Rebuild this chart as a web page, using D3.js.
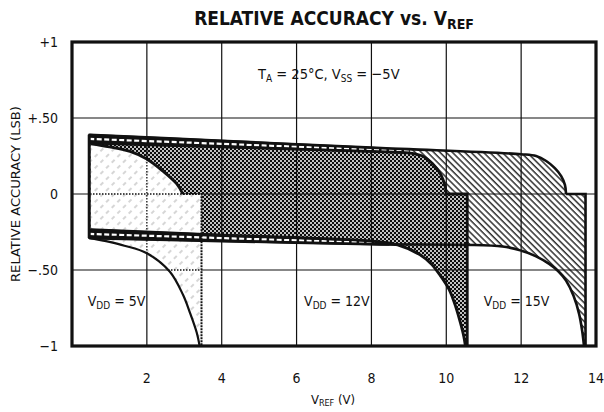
<!DOCTYPE html>
<html>
<head>
<meta charset="utf-8">
<script src="https://cdn.jsdelivr.net/npm/d3@7"></script>
<style>
  body { margin: 0; background: #fff; }
  text { font-family: "Liberation Sans Narrow", "DejaVu Sans Condensed", "Liberation Sans", sans-serif; fill: #111; }
</style>
</head>
<body>
<svg id="chart" width="604" height="412"></svg>
<script>
// axis ticks
var xTicks = [2, 4, 6, 8, 10, 12, 14];
var yTicks = [1, 0.5, 0, -0.5, -1];
var yTickLabels = ["+1", "+.50", "0", "\u2212.50", "\u22121"];
var gridX = [2, 4, 6, 8, 10, 12];
var gridY = [0.5, 0, -0.5];

// boundary curves [VREF, LSB]
var vdd15Top = [[0.46, 0.39], [4, 0.35], [8, 0.305], [9, 0.295], [12.0, 0.262], [12.4, 0.25], [12.67, 0.217], [12.9, 0.17], [13.07, 0.118], [13.17, 0.06], [13.2, 0]];
var vdd15Bottom = [[0.46, -0.29], [4, -0.31], [8, -0.33], [11.5, -0.345], [12.03, -0.375], [12.4, -0.41], [12.75, -0.46], [13.0, -0.51], [13.2, -0.57], [13.4, -0.67], [13.55, -0.79], [13.63, -0.9], [13.68, -1]];
var vdd15Step = [13.2, 13.72];

var vdd12Top = [[0.5, 0.335], [4, 0.31], [8, 0.28], [9.0, 0.27], [9.4, 0.245], [9.63, 0.2], [9.85, 0.13], [9.97, 0.05], [10.0, 0]];
var vdd12Bottom = [[0.5, -0.235], [4, -0.27], [8, -0.31], [8.7, -0.335], [9.3, -0.4], [9.6, -0.46], [9.85, -0.54], [10.08, -0.63], [10.25, -0.74], [10.38, -0.85], [10.47, -0.94], [10.51, -1]];
var vdd12Step = [10.0, 10.56];

var vdd5Top = [[0.5, 0.33], [1.0, 0.31], [1.55, 0.28], [2.0, 0.23], [2.43, 0.15], [2.8, 0.066], [2.96, 0]];
var vdd5Bottom = [[0.5, -0.29], [1.0, -0.315], [1.4, -0.34], [2.0, -0.39], [2.61, -0.51], [2.96, -0.66], [3.15, -0.78], [3.33, -0.91], [3.41, -1]];
var vdd5Step = [2.96, 3.46];

// dashed bands along top and bottom edges (x, outer, inner)
var topBand = [[0.46, 0.39, 0.335], [4, 0.35, 0.31], [8, 0.305, 0.28], [9.0, 0.292, 0.27]];
var bottomBand = [[0.46, -0.29, -0.235], [4, -0.31, -0.27], [8, -0.33, -0.31], [8.7, -0.335, -0.333]];

var labels = [
  { v: 0.42, t: "5V" },
  { v: 6.2, t: "12V" },
  { v: 11.0, t: "15V" }
];

var svg = d3.select("#chart");
var x = d3.scaleLinear().domain([0, 14]).range([72, 596]);
var y = d3.scaleLinear().domain([-1, 1]).range([346, 42]);

var defs = svg.append("defs");

// 15V: "\\" hatch
var p15 = defs.append("pattern").attr("id", "hatch15")
  .attr("patternUnits", "userSpaceOnUse").attr("width", 4.4).attr("height", 4.4)
  .attr("patternTransform", "rotate(-45)");
p15.append("rect").attr("width", 4.4).attr("height", 4.4).attr("fill", "#fff");
p15.append("line").attr("x1", 1).attr("y1", 0).attr("x2", 1).attr("y2", 4.4)
  .attr("stroke", "#222").attr("stroke-width", 1.4);

// 12V: dense cross hatch
var p12 = defs.append("pattern").attr("id", "cross12")
  .attr("patternUnits", "userSpaceOnUse").attr("width", 4).attr("height", 4);
p12.append("rect").attr("width", 4).attr("height", 4).attr("fill", "#0c0c0c");
p12.append("circle").attr("cx", 1).attr("cy", 1).attr("r", 1.0).attr("fill", "#fff");
p12.append("circle").attr("cx", 3).attr("cy", 3).attr("r", 1.0).attr("fill", "#fff");

// 5V: sparse light "/" hatch
var p5 = defs.append("pattern").attr("id", "hatch5")
  .attr("patternUnits", "userSpaceOnUse").attr("width", 8).attr("height", 8)
  .attr("patternTransform", "rotate(45)");
p5.append("rect").attr("width", 8).attr("height", 8).attr("fill", "#fff");
p5.append("line").attr("x1", 2).attr("y1", 0).attr("x2", 2).attr("y2", 4)
  .attr("stroke", "#b5b5b5").attr("stroke-width", 1.1);

var curve = d3.line()
  .curve(d3.curveCatmullRom.alpha(0.5))
  .x(function (d) { return x(d[0]); })
  .y(function (d) { return y(d[1]); });

function region(top, step, bottom) {
  var d = curve(top);
  d += "L" + x(step[1]) + "," + y(0);
  d += "L" + x(step[1]) + "," + y(-1);
  d += curve(bottom.slice().reverse()).replace(/^M/, "L");
  return d + "Z";
}

var path15 = region(vdd15Top, vdd15Step, vdd15Bottom);
var path12 = region(vdd12Top, vdd12Step, vdd12Bottom);
var path5 = region(vdd5Top, vdd5Step, vdd5Bottom);

svg.append("path").attr("d", path15).attr("fill", "url(#hatch15)");
svg.append("path").attr("d", path12).attr("fill", "url(#cross12)");

// grid
var grid = svg.append("g").attr("stroke", "#111").attr("stroke-width", 1.2);
grid.selectAll("line.gx").data(gridX).enter().append("line")
  .attr("x1", function (d) { return x(d); }).attr("x2", function (d) { return x(d); })
  .attr("y1", y(1)).attr("y2", y(-1));
grid.selectAll("line.gy").data(gridY).enter().append("line")
  .attr("y1", function (d) { return y(d); }).attr("y2", function (d) { return y(d); })
  .attr("x1", x(0)).attr("x2", x(14));

svg.append("path").attr("d", path5).attr("fill", "url(#hatch5)");

// dotted grid inside the 5V region
defs.append("clipPath").attr("id", "clip5").append("path").attr("d", path5);
var grid5 = svg.append("g").attr("clip-path", "url(#clip5)")
  .attr("stroke", "#111").attr("stroke-width", 1.3).attr("stroke-dasharray", "1.5,1.5");
grid5.selectAll("line.gx").data(gridX).enter().append("line")
  .attr("x1", function (d) { return x(d); }).attr("x2", function (d) { return x(d); })
  .attr("y1", y(1)).attr("y2", y(-1));
grid5.selectAll("line.gy").data(gridY).enter().append("line")
  .attr("y1", function (d) { return y(d); }).attr("y2", function (d) { return y(d); })
  .attr("x1", x(0)).attr("x2", x(14));

// bands
function band(rows) {
  var a = d3.area()
    .x(function (d) { return x(d[0]); })
    .y0(function (d) { return y(d[1]); })
    .y1(function (d) { return y(d[2]); });
  svg.append("path").attr("d", a(rows)).attr("fill", "#111")
    .attr("stroke", "#111").attr("stroke-width", 2);
  svg.append("path")
    .attr("d", d3.line()
      .x(function (d) { return x(d[0]); })
      .y(function (d) { return (y(d[1]) + y(d[2])) / 2; })(rows))
    .attr("fill", "none").attr("stroke", "#fff")
    .attr("stroke-width", 2.2).attr("stroke-dasharray", "5,2.5");
}
band(topBand);
band(bottomBand);

// boundary strokes
function outline(top, step, bottom, w) {
  var g = svg.append("g").attr("fill", "none").attr("stroke", "#111").attr("stroke-width", w);
  g.append("path").attr("d", curve(top));
  g.append("path").attr("d", curve(bottom));
  g.append("path").attr("d", "M" + x(step[0]) + "," + y(0) + "L" + x(step[1]) + "," + y(0) + "L" + x(step[1]) + "," + y(-1));
}
outline(vdd15Top, vdd15Step, vdd15Bottom, 2.6);
outline(vdd12Top, vdd12Step, vdd12Bottom, 2.8);
svg.append("g").attr("fill", "none").attr("stroke", "#111")
  .call(function (g) {
    g.append("path").attr("d", curve(vdd5Top)).attr("stroke-width", 2.8);
    g.append("path").attr("d", curve(vdd5Bottom)).attr("stroke-width", 2.2);
    g.append("path").attr("d", "M" + x(vdd5Step[0]) + "," + y(0) + "L" + x(vdd5Step[1]) + "," + y(0) + "L" + x(vdd5Step[1]) + "," + y(-1))
      .attr("stroke-width", 2).attr("stroke-dasharray", "2,1");
  });
// left edge of the envelope
svg.append("line")
  .attr("x1", x(vdd15Top[0][0])).attr("x2", x(vdd15Bottom[0][0]))
  .attr("y1", y(vdd15Top[0][1])).attr("y2", y(vdd15Bottom[0][1]))
  .attr("stroke", "#111").attr("stroke-width", 3);

// frame
svg.append("rect")
  .attr("x", x(0)).attr("y", y(1))
  .attr("width", x(14) - x(0)).attr("height", y(-1) - y(1))
  .attr("fill", "none").attr("stroke", "#111").attr("stroke-width", 3.2);

// tick labels
svg.selectAll("text.yt").data(yTicks).enter().append("text")
  .attr("x", 58).attr("y", function (d) { return y(d) + 5; })
  .attr("text-anchor", "end").attr("font-size", 14)
  .text(function (d, i) { return yTickLabels[i]; });
svg.selectAll("text.xt").data(xTicks).enter().append("text")
  .attr("x", function (d) { return x(d); }).attr("y", 383)
  .attr("text-anchor", "middle").attr("font-size", 14)
  .text(function (d) { return d; });

// title
var title = svg.append("text").attr("x", 334).attr("y", 25)
  .attr("text-anchor", "middle").attr("font-size", 19).attr("font-weight", "bold");
title.append("tspan").text("RELATIVE ACCURACY vs. V");
title.append("tspan").attr("font-size", 14).attr("dy", 4).text("REF");

// axis titles
var xl = svg.append("text").attr("x", 333).attr("y", 404)
  .attr("text-anchor", "middle").attr("font-size", 13);
xl.append("tspan").text("V");
xl.append("tspan").attr("font-size", 9).attr("dy", 2).text("REF");
xl.append("tspan").attr("dy", -2).text(" (V)");

svg.append("text")
  .attr("transform", "translate(20," + y(0) + ") rotate(-90)")
  .attr("text-anchor", "middle").attr("font-size", 13)
  .attr("textLength", 176).attr("lengthAdjust", "spacingAndGlyphs")
  .text("RELATIVE ACCURACY (LSB)");

// conditions
var cond = svg.append("text").attr("x", 258).attr("y", 79).attr("font-size", 14.5);
cond.append("tspan").text("T");
cond.append("tspan").attr("font-size", 10).attr("dy", 3).text("A");
cond.append("tspan").attr("dy", -3).text(" = 25\u00b0C, V");
cond.append("tspan").attr("font-size", 10).attr("dy", 3).text("SS");
cond.append("tspan").attr("dy", -3).text(" = \u22125V");

// VDD labels
labels.forEach(function (l) {
  var t = svg.append("text").attr("x", x(l.v)).attr("y", 306).attr("font-size", 14);
  t.append("tspan").text("V");
  t.append("tspan").attr("font-size", 10).attr("dy", 3).text("DD");
  t.append("tspan").attr("dy", -3).text(" = " + l.t);
});
</script>
</body>
</html>
